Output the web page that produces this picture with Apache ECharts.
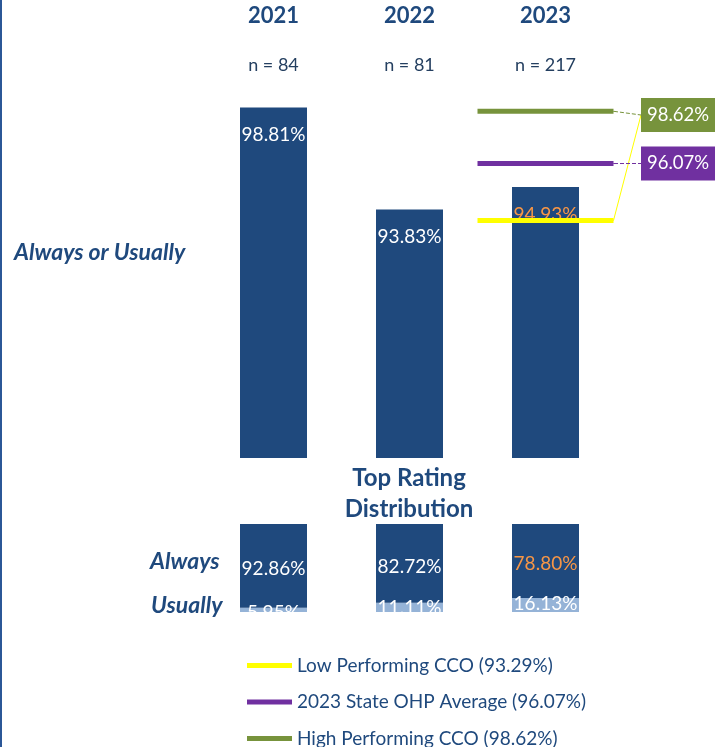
<!DOCTYPE html>
<html>
<head>
<meta charset="utf-8">
<script src="https://cdn.jsdelivr.net/npm/echarts/dist/echarts.min.js"></script>
<style>
  html, body { margin: 0; padding: 0; background: #fff; }
  #main { width: 715px; height: 747px; }
</style>
</head>
<body>
<div id="main"></div>
<script>
// data
const years = ['2021', '2022', '2023'];
const nCounts = [84, 81, 217];
const alwaysOrUsually = [98.81, 93.83, 94.93];
const always = [92.86, 82.72, 78.80];
const usually = [5.95, 11.11, 16.13];
const refNames = ['Low Performing CCO', '2023 State OHP Average', 'High Performing CCO'];
const refValues = [93.29, 96.07, 98.62];

const navy = '#1F497D';
const lightBlue = '#95B3D7';
const orange = '#F79646';
const refColors = ['#FFFF00', '#7030A0', '#77933C'];
const font = 'Lato';

const pct = v => v.toFixed(2) + '%';
const legendNames = refNames.map((n, i) => n + ' (' + pct(refValues[i]) + ')');

// label boxes on the right: [y centre, z]
const refLabelPos = [[115, 2], [163.5, 4], [115, 5]];

let chart = echarts.init(document.getElementById('main'));

const refSeries = refValues.map((v, i) => ({
    name: legendNames[i],
    type: 'line',
    xAxisIndex: 1,
    yAxisIndex: 0,
    z: refLabelPos[i][1],
    symbol: 'none',
    lineStyle: { color: refColors[i], width: 5 },
    itemStyle: { color: refColors[i] },
    data: [
        [1.5, v],
        {
            value: [2.5, v],
            symbol: 'circle',
            symbolSize: 1,
            label: {
                show: true,
                formatter: p => pct(p.value[1]),
                color: '#fff',
                fontFamily: font,
                fontSize: 18.5,
                lineHeight: 20,
                backgroundColor: refColors[i],
                padding: [7, 8, 7, 6]
            }
        }
    ],
    labelLine: {
        show: true,
        lineStyle: { color: refColors[i], width: 1, type: i === 0 ? 'solid' : 'dashed' }
    },
    labelLayout: () => ({
        x: 641,
        y: refLabelPos[i][0],
        align: 'left',
        verticalAlign: 'middle'
    }),
    emphasis: { disabled: true },
    silent: true
}));

let option = {
    animation: false,
    backgroundColor: '#fff',
    textStyle: { fontFamily: font },
    title: {
        text: 'Top Rating\nDistribution',
        left: 404,
        textAlign: 'center',
        top: 458,
        textStyle: { color: navy, fontSize: 24, fontWeight: 'bold', lineHeight: 31, fontFamily: font }
    },
    legend: {
        orient: 'vertical',
        left: 247,
        top: 656,
        height: 110,
        padding: 0,
        itemWidth: 45,
        itemHeight: 5,
        itemGap: 17.5,
        selectedMode: false,
        textStyle: { color: navy, fontSize: 19, lineHeight: 18, fontFamily: font },
        data: legendNames.map(n => ({ name: n, icon: 'rect' }))
    },
    grid: [
        { left: 205.5, right: 101.5, top: 83, bottom: 289 },
        { left: 205.5, right: 101.5, top: 524, bottom: 133.6 }
    ],
    xAxis: [
        {
            type: 'category',
            gridIndex: 0,
            position: 'top',
            data: years,
            axisLine: { show: false },
            axisTick: { show: false },
            axisLabel: {
                margin: 6,
                formatter: (val, idx) => '{y|' + val + '}\n{n|n = ' + nCounts[idx] + '}',
                rich: {
                    y: { fontSize: 22, fontWeight: 'bold', color: navy, lineHeight: 74, fontFamily: font },
                    n: { fontSize: 18, color: '#243F60', lineHeight: 24, fontFamily: font }
                }
            }
        },
        { type: 'value', gridIndex: 0, min: -0.5, max: 2.5, show: false },
        { type: 'category', gridIndex: 1, data: years, show: false }
    ],
    yAxis: [
        { type: 'value', gridIndex: 0, min: 81.7, max: 100, show: false },
        { type: 'value', gridIndex: 1, min: 0, max: 93.8, show: false }
    ],
    series: [
        {
            name: 'Always or Usually',
            type: 'bar',
            xAxisIndex: 0,
            yAxisIndex: 0,
            barWidth: 67,
            z: 1,
            itemStyle: { color: navy },
            label: {
                show: true,
                position: 'insideTop',
                distance: 18,
                fontSize: 19,
                fontFamily: font,
                formatter: p => pct(p.value)
            },
            data: alwaysOrUsually.map((v, i) => ({
                value: v,
                label: { color: i === 2 ? orange : '#fff' }
            })),
            emphasis: { disabled: true },
            silent: true
        },
        ...refSeries,
        {
            name: 'Usually',
            type: 'bar',
            stack: 'dist',
            xAxisIndex: 2,
            yAxisIndex: 1,
            barWidth: 67,
            itemStyle: { color: lightBlue },
            label: {
                show: true,
                position: 'insideTop',
                distance: 0,
                offset: [0, -4],
                color: '#fff',
                fontSize: 19,
                fontFamily: font,
                formatter: p => pct(p.value)
            },
            data: usually,
            emphasis: { disabled: true },
            silent: true
        },
        {
            name: 'Always',
            type: 'bar',
            stack: 'dist',
            xAxisIndex: 2,
            yAxisIndex: 1,
            barWidth: 67,
            itemStyle: { color: navy },
            label: {
                show: true,
                position: 'inside',
                offset: [0, 3],
                fontSize: 19,
                fontFamily: font,
                formatter: p => pct(p.value)
            },
            data: always.map((v, i) => ({
                value: v,
                label: { color: i === 2 ? orange : '#fff' }
            })),
            markPoint: {
                symbol: 'path://M12 0 L15 8.5 L24 9 L17 14.5 L19.5 23.5 L12 18 L4.5 23.5 L7 14.5 L0 9 L9 8.5 Z',
                symbolSize: 17,
                symbolOffset: [38, 5],
                itemStyle: { color: '#E46C0A' },
                label: { show: false },
                data: [{ coord: [0, alwaysOrUsually[0]] }]
            },
            emphasis: { disabled: true },
            silent: true
        }
    ],
    graphic: [
        { type: 'rect', left: 0, top: 0, shape: { width: 2, height: 747 }, style: { fill: '#2B5797' } },
        { type: 'rect', left: 232, top: 612, z: 100, shape: { width: 390, height: 30 }, style: { fill: '#fff' } },
        {
            type: 'text', left: 14, top: 241,
            style: { text: 'Always or Usually', fill: navy, font: 'italic bold 23px Lato' }
        },
        {
            type: 'text', left: 150, top: 550,
            style: { text: 'Always', fill: navy, font: 'italic bold 23px Lato' }
        },
        {
            type: 'text', left: 151, top: 594,
            style: { text: 'Usually', fill: navy, font: 'italic bold 23px Lato' }
        }
    ]
};

chart.setOption(option);
</script>
</body>
</html>
